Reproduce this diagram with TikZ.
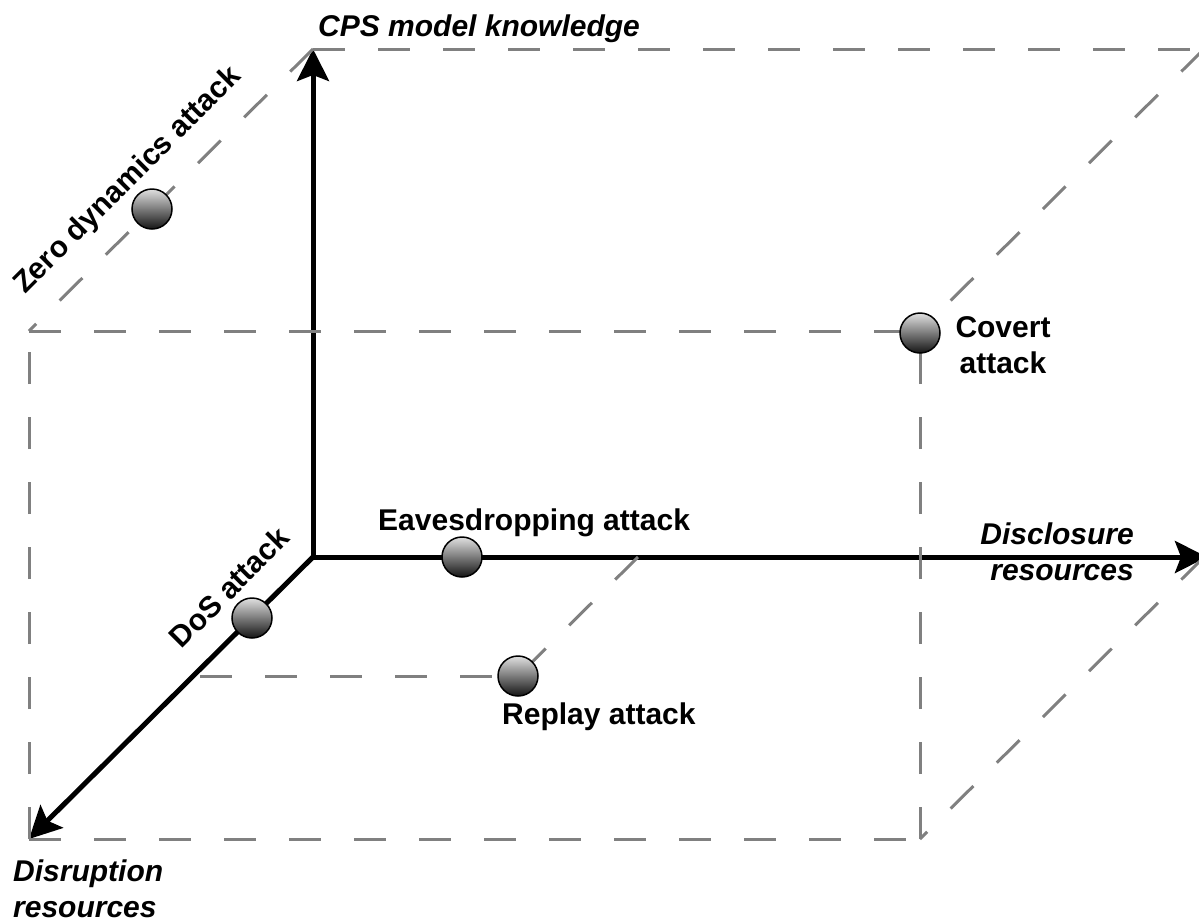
\documentclass[tikz,border=0pt]{standalone}
\usepackage{fontspec}
\setmainfont{Liberation Sans}
\usetikzlibrary{arrows.meta}
\begin{document}
\begin{tikzpicture}[x=1pt,y=-1pt,
  axis/.style={line width=5pt,black,-{Stealth[length=32pt,width=32pt,inset=6pt]}},
  guide/.style={line width=3pt,gray,dash pattern=on 32pt off 33pt},
  ball/.style={circle,draw=black,line width=1.5pt,minimum size=40pt,inner sep=0pt,
               top color=white!88!black,bottom color=black!92},
  lbl/.style={font=\fontsize{30}{36}\selectfont\bfseries,inner sep=0pt},
  axlbl/.style={font=\fontsize{30}{36}\selectfont\bfseries\itshape,inner sep=0pt}]
\useasboundingbox (0,0) rectangle (1199,922);

% corners of the box
\coordinate (O)   at (313,557);
\coordinate (BTL) at (313,49);
\coordinate (BTR) at (1204,49);
\coordinate (BBR) at (1204,557);
\coordinate (FTL) at (29,331);
\coordinate (FTR) at (920,331);
\coordinate (FBL) at (29,839);
\coordinate (FBR) at (920,839);
\coordinate (Xend) at (1207,557);
\coordinate (Ostart) at (313,559.5);
\coordinate (Oleft) at (310.5,557);

% attack positions
\coordinate (pZD)  at (152,209);
\coordinate (pDoS) at (252,618);
\coordinate (pEav) at (462,557);
\coordinate (pRep) at (518,676);
\coordinate (pCov) at (920,333);
\coordinate (rStart) at (200,676);
\coordinate (rAxis) at (638,557);

% axes
\draw[axis] (Ostart) -- (BTL);
\draw[axis] (Oleft) -- (Xend);
\draw[axis] (O) -- (FBL);

% dashed box
\draw[guide] (BTL) -- (BTR);
\draw[guide] (BTL) -- (FTL);
\draw[guide] (BTR) -- (FTR);
\draw[guide] (FTL) -- (FTR);
\draw[guide] (FBL) -- (FTL);
\draw[guide] (FBR) -- (FTR);
\draw[guide] (FBL) -- (FBR);
\draw[guide] (BBR) -- (FBR);

% replay projection lines
\draw[guide] (rStart) -- (pRep);
\draw[guide] (rAxis) -- (pRep);

% attack markers
\node[ball] (zd)  at (pZD)  {};
\node[ball] (dos) at (pDoS) {};
\node[ball] (eav) at (pEav) {};
\node[ball] (rep) at (pRep) {};
\node[ball] (cov) at (pCov) {};

% labels
\node[axlbl,anchor=base west] (lz) at (318,36) {CPS model knowledge};
\node[axlbl,anchor=north east,align=right] (lx) at (1134,523) {Disclosure\\resources};
\node[axlbl,anchor=north west,align=left] (ly) at (13,860) {Disruption\\resources};

\node[lbl,rotate=45] (tzd) at (128,181) {Zero dynamics attack};
\node[lbl,rotate=45] (tdos) at (229,587) {DoS attack};
\node[lbl,anchor=base west] (teav) at (378,530) {Eavesdropping attack};
\node[lbl,anchor=base west] (trep) at (502,724) {Replay attack};
\node[lbl,anchor=north,align=center] (tcov) at (1003,316) {Covert\\attack};
\end{tikzpicture}
\end{document}
